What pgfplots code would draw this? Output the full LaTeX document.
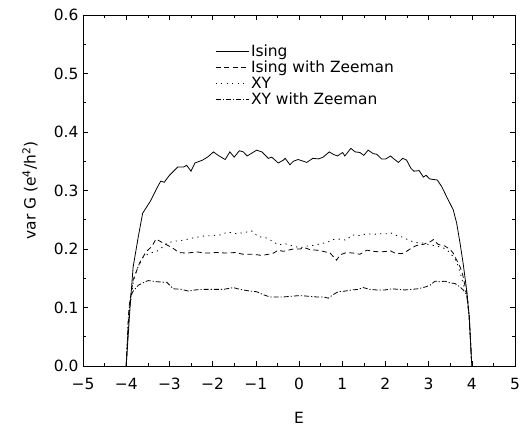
\documentclass[border=0pt]{standalone}
\usepackage{fontspec}
\setmainfont{DejaVu Sans}
\usepackage{pgfplots}
\pgfplotsset{compat=1.18}
\begin{document}
\begin{tikzpicture}
\begin{axis}[
  name=ax,
  scale only axis,
  width=432bp, height=351bp,
  xmin=-5, xmax=5, ymin=0, ymax=0.6,
  xtick={-5,-4,-3,-2,-1,0,1,2,3,4,5},
  xticklabels={−5,−4,−3,−2,−1,0,1,2,3,4,5},
  ytick={0,0.1,0.2,0.3,0.4,0.5,0.6},
  yticklabels={0.0,0.1,0.2,0.3,0.4,0.5,0.6},
  minor x tick num=1, minor y tick num=1,
  tick align=inside,
  major tick length=5bp, minor tick length=3bp,
  tick style={black, line width=0.6pt},
  axis line style={line width=0.8pt},
  ticklabel style={font=\fontsize{15.5}{18}\selectfont},
  xticklabel style={yshift=-9bp},
  yticklabel style={xshift=-1bp},
  xlabel={E}, ylabel={var G (e\textsuperscript{4}/h\textsuperscript{2})},
  label style={font=\fontsize{15.5}{18}\selectfont},
  xlabel style={at={(axis description cs:0.5,-0.1467)}, anchor=center},
  ylabel style={at={(axis description cs:-0.1227,0.5)}, anchor=center},
  legend cell align=left,
  legend style={at={(rel axis cs:0.3056,0.92)}, anchor=north west, draw=none, fill=none,
    font=\fontsize{15.5}{18}\selectfont, row sep=0bp, inner sep=0pt,
    nodes={inner xsep=2bp, inner ysep=1.5bp}},
  legend image code/.code={\draw[#1] (0bp,0bp) -- (33bp,0bp);},
  every axis plot/.append style={black, line width=0.8pt},
]
\addplot[solid] coordinates {
(-4.00,0) (-3.91,0.101) (-3.84,0.169) (-3.72,0.221) (-3.62,0.261) (-3.43,0.283)
(-3.29,0.304) (-3.20,0.316) (-3.12,0.314) (-3.00,0.326) (-2.81,0.340) (-2.68,0.340)
(-2.60,0.343) (-2.50,0.333) (-2.41,0.347) (-2.23,0.352) (-2.10,0.358) (-1.98,0.366)
(-1.87,0.360) (-1.71,0.353) (-1.60,0.366) (-1.50,0.357) (-1.38,0.368) (-1.29,0.366)
(-1.20,0.359) (-0.98,0.369) (-0.86,0.366) (-0.71,0.355) (-0.63,0.357) (-0.48,0.347)
(-0.36,0.352) (-0.32,0.355) (-0.21,0.344) (-0.13,0.350) (-0.02,0.353) (0.10,0.350)
(0.18,0.348) (0.32,0.355) (0.45,0.354) (0.56,0.357) (0.70,0.366) (0.79,0.362)
(0.89,0.359) (1.01,0.365) (1.06,0.359) (1.20,0.372) (1.30,0.366) (1.41,0.365)
(1.50,0.360) (1.60,0.369) (1.72,0.363) (1.80,0.362) (1.91,0.354) (2.01,0.354)
(2.12,0.359) (2.18,0.355) (2.30,0.348) (2.40,0.355) (2.49,0.352) (2.59,0.338)
(2.66,0.333) (2.78,0.334) (2.88,0.323) (2.94,0.326) (3.02,0.320) (3.09,0.319)
(3.20,0.318) (3.30,0.307) (3.42,0.289) (3.57,0.267) (3.65,0.244) (3.73,0.209)
(3.80,0.175) (3.88,0.130) (3.94,0.085) (4.00,0)
};
\addlegendentry{Ising}
\addplot[dash pattern=on 5bp off 3.5bp] coordinates {
(-4.00,0) (-3.93,0.103) (-3.84,0.147) (-3.68,0.178) (-3.53,0.196) (-3.41,0.204)
(-3.31,0.217) (-3.14,0.210) (-3.03,0.206) (-2.87,0.199) (-2.79,0.194) (-2.60,0.193)
(-2.37,0.195) (-2.14,0.193) (-1.91,0.194) (-1.67,0.193) (-1.48,0.194) (-1.29,0.191)
(-1.06,0.191) (-0.86,0.189) (-0.71,0.191) (-0.59,0.193) (-0.48,0.198) (-0.36,0.196)
(-0.25,0.198) (-0.13,0.200) (0.02,0.200) (0.14,0.202) (0.25,0.199) (0.41,0.198)
(0.56,0.196) (0.72,0.193) (0.87,0.181) (0.95,0.190) (1.10,0.194) (1.26,0.193)
(1.41,0.191) (1.57,0.198) (1.72,0.196) (1.88,0.195) (2.03,0.196) (2.11,0.197)
(2.22,0.193) (2.38,0.192) (2.49,0.196) (2.61,0.202) (2.72,0.206) (2.88,0.208)
(3.03,0.212) (3.11,0.216) (3.22,0.208) (3.38,0.205) (3.50,0.199) (3.57,0.193)
(3.65,0.181) (3.73,0.169) (3.79,0.156) (3.83,0.141) (3.88,0.128) (3.94,0.084) (4.00,0)
};
\addlegendentry{Ising with Zeeman}
\addplot[dash pattern=on 1.2bp off 4.3bp] coordinates {
(-4.00,0) (-3.93,0.093) (-3.84,0.142) (-3.75,0.166) (-3.68,0.175) (-3.60,0.187)
(-3.45,0.193) (-3.29,0.196) (-3.18,0.202) (-3.06,0.210) (-2.91,0.213) (-2.68,0.215)
(-2.45,0.219) (-2.22,0.222) (-1.98,0.223) (-1.83,0.224) (-1.64,0.229) (-1.44,0.226)
(-1.21,0.229) (-1.10,0.231) (-0.94,0.221) (-0.79,0.220) (-0.63,0.214) (-0.48,0.207)
(-0.32,0.209) (-0.13,0.205) (0.02,0.202) (0.18,0.205) (0.33,0.206) (0.49,0.209)
(0.64,0.211) (0.79,0.216) (0.95,0.217) (1.10,0.215) (1.22,0.224) (1.41,0.223)
(1.57,0.226) (1.72,0.225) (1.84,0.226) (2.03,0.226) (2.11,0.228) (2.26,0.223)
(2.41,0.220) (2.57,0.214) (2.72,0.211) (2.88,0.210) (3.03,0.207) (3.19,0.205)
(3.34,0.202) (3.46,0.196) (3.57,0.187) (3.65,0.178) (3.69,0.169) (3.73,0.159)
(3.79,0.144) (3.84,0.130) (3.90,0.119) (3.95,0.074) (4.00,0)
};
\addlegendentry{XY}
\addplot[dash pattern=on 5bp off 2bp on 1.2bp off 2bp] coordinates {
(-4.00,0) (-3.95,0.084) (-3.90,0.118) (-3.84,0.128) (-3.72,0.138) (-3.56,0.144)
(-3.49,0.146) (-3.29,0.144) (-3.06,0.143) (-2.91,0.132) (-2.72,0.131) (-2.56,0.128)
(-2.41,0.130) (-2.22,0.131) (-1.98,0.131) (-1.75,0.131) (-1.52,0.134) (-1.37,0.131)
(-1.13,0.128) (-0.98,0.127) (-0.83,0.122) (-0.67,0.118) (-0.52,0.118) (-0.36,0.118)
(-0.21,0.119) (-0.05,0.120) (0.10,0.120) (0.25,0.119) (0.41,0.118) (0.56,0.118)
(0.68,0.116) (0.79,0.122) (0.91,0.127) (1.06,0.128) (1.22,0.130) (1.37,0.131)
(1.49,0.134) (1.64,0.131) (1.80,0.130) (1.99,0.130) (2.15,0.132) (2.30,0.131)
(2.45,0.130) (2.61,0.131) (2.76,0.132) (2.92,0.135) (3.03,0.138) (3.15,0.145)
(3.26,0.144) (3.38,0.145) (3.50,0.142) (3.61,0.141) (3.73,0.135) (3.80,0.130)
(3.88,0.122) (3.94,0.084) (4.00,0)
};
\addlegendentry{XY with Zeeman}
\end{axis}
\useasboundingbox (ax.south west) ++(-83bp,-60bp) rectangle ([shift={(12bp,15bp)}]ax.north east);
\end{tikzpicture}
\end{document}
